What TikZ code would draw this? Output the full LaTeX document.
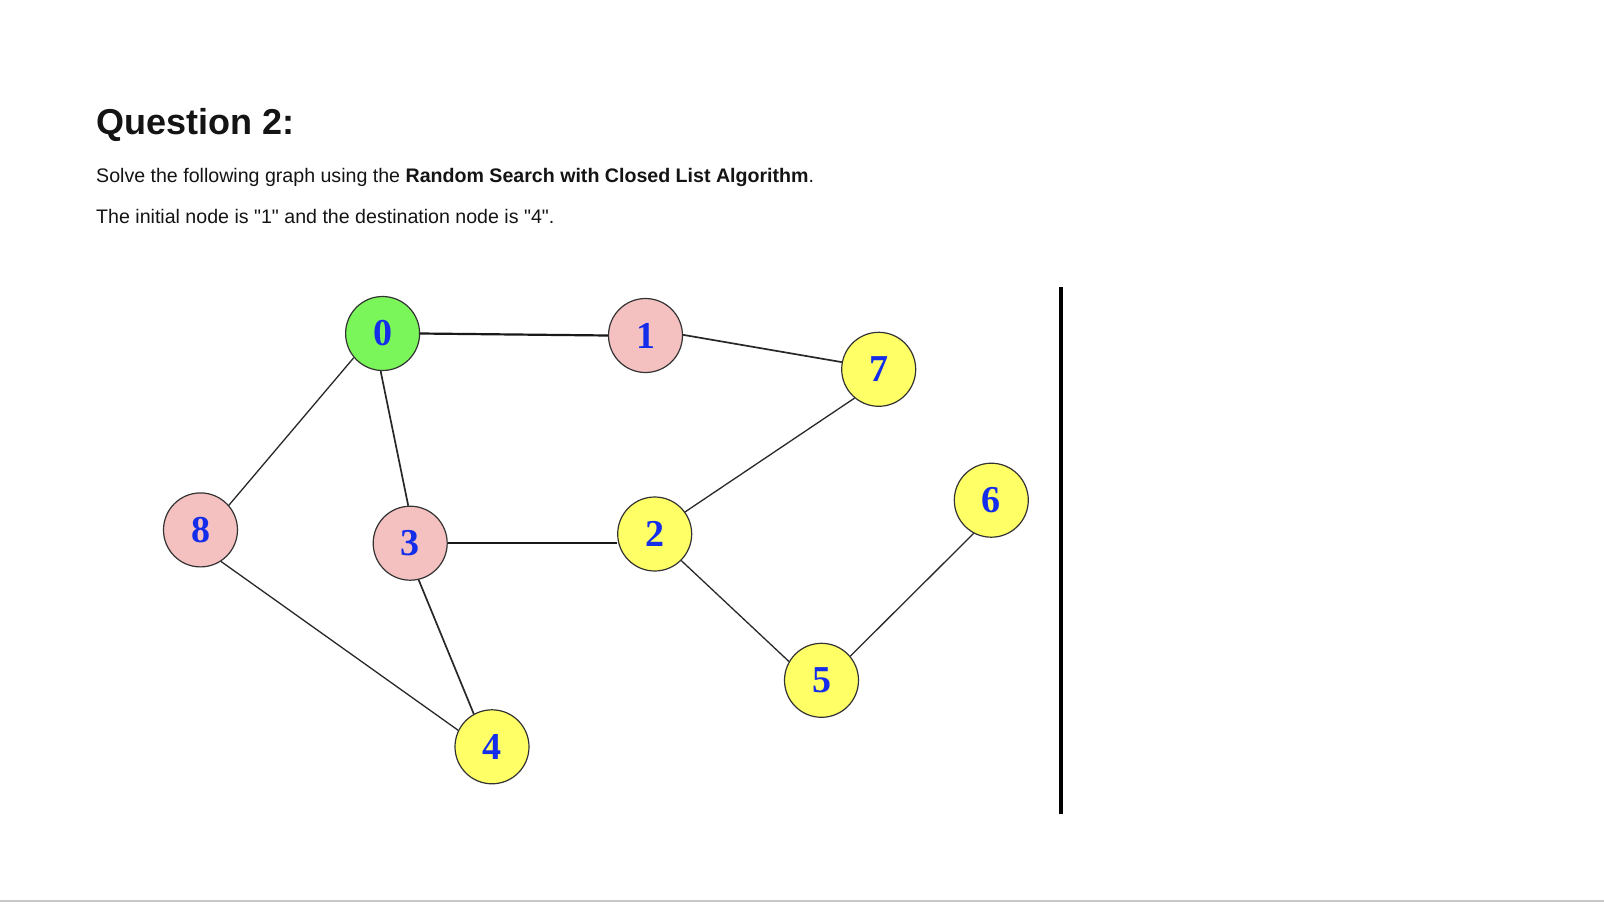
\documentclass[tikz,border=0pt]{standalone}
\usepackage{fontspec}
\setmainfont{Liberation Sans}[Ligatures=TeXOff]
\newfontfamily\digitfont{Liberation Serif}
\definecolor{ngreen}{RGB}{122,245,90}
\definecolor{npink}{RGB}{244,192,192}
\definecolor{nyellow}{RGB}{255,255,102}
\definecolor{nblue}{RGB}{20,45,235}
\definecolor{edgec}{RGB}{40,40,40}
\tikzset{
  gnode/.style={circle, draw=black!80, line width=1.2pt, minimum size=74pt, inner sep=0pt,
    font=\digitfont\bfseries\fontsize{38}{38}\selectfont, text=nblue},
  greennode/.style={gnode, fill=ngreen},
  pinknode/.style={gnode, fill=npink},
  yellownode/.style={gnode, fill=nyellow},
  thinedge/.style={draw=edgec, line width=1.3pt},
  thickedge/.style={draw=black!90, line width=2.2pt},
  midedge/.style={draw=edgec, line width=1.7pt},
  txt/.style={anchor=base west, inner sep=0pt, text=black!92}
}
\begin{document}
\begin{tikzpicture}[x=1pt,y=-1pt]
\useasboundingbox (0,0) rectangle (1604,910);
\fill[white] (0,0) rectangle (1604,910);
% texts
\node[txt, font=\bfseries\fontsize{36}{40}\selectfont] (title) at (96,134) {Question 2:};
\node[txt, font=\fontsize{19.6}{22}\selectfont] (line1) at (96,182) {Solve the following graph using the \textbf{Random Search with Closed List Algorithm}.};
\node[txt, font=\fontsize{19.6}{22}\selectfont] (line2) at (96,223.5) {The initial node is "1" and the destination node is "4".};
% nodes
\node[greennode]  (n0) at (382.6,333.5) {0};
\node[pinknode]   (n1) at (645.5,335.5) {1};
\node[yellownode] (n7) at (878.7,369.3) {7};
\node[pinknode]   (n8) at (200.5,529.9) {8};
\node[pinknode]   (n3) at (410.2,543.2) {3};
\node[yellownode] (n2) at (654.7,534.0) {2};
\node[yellownode] (n6) at (991.3,500.2) {6};
\node[yellownode] (n5) at (821.5,680.3) {5};
\node[yellownode] (n4) at (492.0,746.8) {4};
% edges
\draw[thickedge] (n0.east) -- (n1.west);
\draw[thinedge] (n0.220) -- (n8.41);
\draw[midedge] (n0.267) -- (n3.93);
\draw[midedge] (n1.1) -- (n7.169);
\draw[thinedge] (n2.36) -- (n7.230);
\draw[thickedge] (n3.east) -- (n2.west |- n3.east);
\draw[thinedge] (n2.315) -- (n5.150);
\draw[thinedge] (n5.40) -- (n6.242);
\draw[thinedge] (n8.303) -- (n4.154);
\draw[midedge] (n3.283) -- (n4.119);
% divider
\coordinate (vtop) at (1061,287);
\coordinate (vbot) at (1061,814);
\draw[black, line width=3.5pt] (vtop) -- (vbot);
\coordinate (hl) at (0,901);
\coordinate (hr) at (1604,901);
\draw[black!22, line width=2pt] (hl) -- (hr);
\end{tikzpicture}
\end{document}
